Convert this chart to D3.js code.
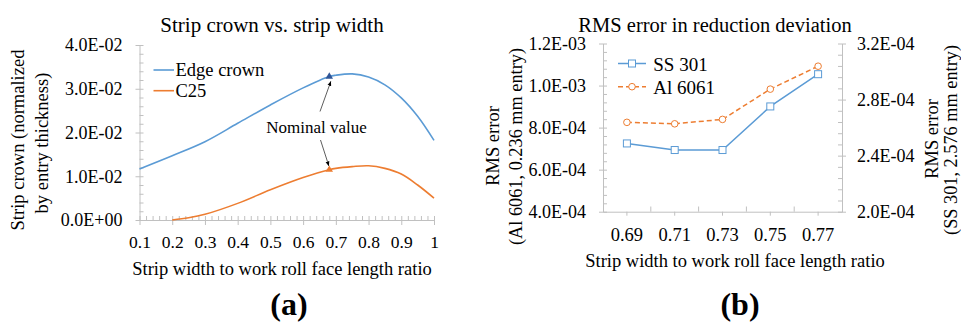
<!DOCTYPE html>
<html>
<head>
<meta charset="utf-8">
<script src="https://cdn.jsdelivr.net/npm/d3@7/dist/d3.min.js"></script>
<style>
  body { margin: 0; background: #fff; }
  svg { display: block; }
</style>
</head>
<body>
<svg id="chart" width="961" height="324"></svg>
<script>
// ---------- Data: panel (a) ----------
const ratioA = [0.1, 0.2, 0.3, 0.4, 0.5, 0.6, 0.68, 0.7, 0.75, 0.8, 0.85, 0.9, 0.95, 1.0];
const edgeCrown = [0.01168, 0.0147, 0.0179, 0.0221, 0.0263, 0.0302, 0.0328, 0.0331, 0.0334, 0.0327, 0.0309, 0.0279, 0.0237, 0.0182];
const ratioC25 = [0.2, 0.25, 0.3, 0.4, 0.5, 0.6, 0.68, 0.7, 0.75, 0.8, 0.85, 0.9, 0.95, 1.0];
const c25 = [0.0, 0.0005, 0.0013, 0.0038, 0.0069, 0.0097, 0.0115, 0.0118, 0.0122, 0.0124, 0.0118, 0.0105, 0.0080, 0.0050];
const nominalRatio = 0.68;
const nominalEdge = 0.0328;
const nominalC25 = 0.0115;
const xTicksA = [0.1, 0.2, 0.3, 0.4, 0.5, 0.6, 0.7, 0.8, 0.9, 1];
const yTicksA = [0, 0.01, 0.02, 0.03, 0.04];

// ---------- Data: panel (b) ----------
const widthRatios = ["0.69", "0.71", "0.73", "0.75", "0.77"];
const ss301 = [2.487e-4, 2.44e-4, 2.44e-4, 2.751e-4, 2.981e-4];      // right axis
const al6061 = [8.25e-4, 8.18e-4, 8.39e-4, 9.83e-4, 1.092e-3];     // left axis
const yTicksBLeft = [4e-4, 6e-4, 8e-4, 1.0e-3, 1.2e-3];
const yTicksBRight = [2.0e-4, 2.4e-4, 2.8e-4, 3.2e-4];

const BLUE = "#5b9bd5", ORANGE = "#ed7d31", AXIS = "#c0c0c0";
const FONT = "'Liberation Serif', 'Times New Roman', Tinos";
const svg = d3.select("#chart");
svg.append("rect").attr("width", 961).attr("height", 324).attr("fill", "#fff");

function fmtE(v, digits) {
  if (v === 0) return "0.0E+00";
  const e = Math.floor(Math.log10(Math.abs(v)) + 1e-9);
  const m = v / Math.pow(10, e);
  const sign = e < 0 ? "-" : "+";
  const ae = Math.abs(e);
  return m.toFixed(digits) + "E" + sign + (ae < 10 ? "0" + ae : ae);
}
function styleAxis(g) {
  g.select(".domain").attr("stroke", AXIS).attr("stroke-width", 1);
  g.selectAll(".tick line").attr("stroke", AXIS).attr("stroke-width", 1);
}
function label(g, x, y, txt, size, opts = {}) {
  const t = g.append("text")
    .attr("transform", opts.rot ? `translate(${x},${y}) rotate(-90)` : `translate(${x},${y})`)
    .attr("text-anchor", opts.anchor || "middle")
    .style("font-family", FONT).style("font-size", size + "px").style("fill", "#000")
    .text(txt);
  if (opts.bold) t.style("font-weight", "bold");
  return t;
}

// ================= Panel (a) =================
{
  const g = svg.append("g");
  const x = d3.scaleLinear().domain([0.1, 1]).range([139.5, 434]);
  const y = d3.scaleLinear().domain([0, 0.04]).range([220, 45]);

  const minorY = d3.range(0, 0.0401, 0.002).filter(v => Math.abs(v / 0.01 - Math.round(v / 0.01)) > 1e-6);
  const gyMinor = g.append("g").attr("transform", `translate(${x(0.1)},0)`)
    .call(d3.axisRight(y).tickValues(minorY).tickSize(4).tickFormat(""));
  styleAxis(gyMinor); gyMinor.select(".domain").remove();
  const minorX = d3.range(0.1, 1.0001, 0.02).filter(v => Math.abs(v * 10 - Math.round(v * 10)) > 1e-6);
  const gxMinor = g.append("g").attr("transform", `translate(0,${y(0)})`)
    .call(d3.axisTop(x).tickValues(minorX).tickSize(4).tickFormat(""));
  styleAxis(gxMinor); gxMinor.select(".domain").remove();

  const gy = g.append("g").attr("transform", `translate(${x(0.1)},0)`)
    .call(d3.axisLeft(y).tickValues(yTicksA).tickSize(4).tickSizeOuter(0).tickPadding(13).tickFormat(d => fmtE(d, 1)));
  styleAxis(gy);
  gy.selectAll(".tick line").attr("x2", -4).attr("x1", 4);
  gy.selectAll(".tick text").style("font-family", FONT).style("font-size", "18px").style("fill", "#000").attr("dy", "0.33em");

  const gx = g.append("g").attr("transform", `translate(0,${y(0)})`)
    .call(d3.axisBottom(x).tickValues(xTicksA).tickSize(5).tickSizeOuter(0).tickFormat(d => d === 1 ? "1" : d3.format(".1f")(d)));
  styleAxis(gx);
  gx.selectAll(".tick line").attr("y1", -4).attr("y2", 5);
  gx.selectAll(".tick text").style("font-family", FONT).style("font-size", "17.5px").style("fill", "#000").attr("y", 28).attr("dy", 0);

  const line = d3.line().x(d => x(d[0])).y(d => y(d[1])).curve(d3.curveCatmullRom.alpha(0.5));
  g.append("path").datum(ratioA.map((r, i) => [r, edgeCrown[i]]))
    .attr("d", line).attr("fill", "none").attr("stroke", BLUE).attr("stroke-width", 1.6);
  g.append("path").datum(ratioC25.map((r, i) => [r, c25[i]]))
    .attr("d", line).attr("fill", "none").attr("stroke", ORANGE).attr("stroke-width", 1.6);

  const tri = d3.symbol().type(d3.symbolTriangle).size(24);
  g.append("path").attr("d", tri).attr("transform", `translate(${x(nominalRatio)},${y(nominalEdge)})`).attr("fill", "#2f5597");
  g.append("path").attr("d", tri).attr("transform", `translate(${x(nominalRatio)},${y(nominalC25)})`).attr("fill", ORANGE);

  const defs = svg.append("defs");
  defs.append("marker").attr("id", "arr").attr("viewBox", "0 0 10 10").attr("refX", 9).attr("refY", 5)
    .attr("markerWidth", 6).attr("markerHeight", 6).attr("orient", "auto")
    .append("path").attr("d", "M0,1 L10,5 L0,9 Z").attr("fill", "#000");
  label(g, 316.5, 133.3, "Nominal value", 17);
  g.append("line").attr("x1", 320).attr("y1", 111.5).attr("x2", x(nominalRatio) + 1.5).attr("y2", y(nominalEdge) + 5)
    .attr("stroke", "#333").attr("stroke-width", 0.8).attr("marker-end", "url(#arr)");
  g.append("line").attr("x1", 320.5).attr("y1", 140).attr("x2", x(nominalRatio) - 0.5).attr("y2", y(nominalC25) - 4)
    .attr("stroke", "#333").attr("stroke-width", 0.8).attr("marker-end", "url(#arr)");

  const leg = [["Edge crown", BLUE], ["C25", ORANGE]];
  leg.forEach((d, i) => {
    const yy = 70 + i * 20.7;
    g.append("line").attr("x1", 153.5).attr("x2", 174).attr("y1", yy).attr("y2", yy).attr("stroke", d[1]).attr("stroke-width", 1.6);
    label(g, 175.5, yy + 6, d[0], 18.5, { anchor: "start" });
  });

  label(g, 272, 31.5, "Strip crown vs. strip width", 21);
  label(g, 282, 275, "Strip width to work roll face length ratio", 18.5);
  label(g, 24, 140, "Strip crown (normalized", 18.5, { rot: true });
  label(g, 47.5, 143, "by entry thickness)", 18.5, { rot: true });
  label(g, 289, 315, "(a)", 32, { bold: true });
}

// ================= Panel (b) =================
{
  const g = svg.append("g");
  const x = d3.scaleBand().domain(widthRatios).range([603, 842]).padding(0);
  const yL = d3.scaleLinear().domain([4e-4, 1.2e-3]).range([211.7, 43.5]);
  const yR = d3.scaleLinear().domain([2e-4, 3.2e-4]).range([211.7, 43.5]);
  const cx = d => x(d) + x.bandwidth() / 2;

  const minorL = d3.range(4e-4, 1.2001e-3, 0.4e-4).filter(v => Math.abs(v / 2e-4 - Math.round(v / 2e-4)) > 1e-6);
  const gl2 = g.append("g").attr("transform", `translate(603,0)`)
    .call(d3.axisRight(yL).tickValues(minorL).tickSize(4).tickFormat(""));
  styleAxis(gl2); gl2.select(".domain").remove();
  const minorR = d3.range(2e-4, 3.2001e-4, 0.08e-4).filter(v => Math.abs(v / 0.4e-4 - Math.round(v / 0.4e-4)) > 1e-6);
  const gr2 = g.append("g").attr("transform", `translate(842,0)`)
    .call(d3.axisLeft(yR).tickValues(minorR).tickSize(4).tickFormat(""));
  styleAxis(gr2); gr2.select(".domain").remove();
  const bounds = widthRatios.slice(1).map(d => x(d));
  g.selectAll(".xb").data(bounds).join("line").attr("x1", d => d).attr("x2", d => d)
    .attr("y1", 211.7).attr("y2", 206.5).attr("stroke", AXIS);

  const gl = g.append("g").attr("transform", `translate(603,0)`)
    .call(d3.axisLeft(yL).tickValues(yTicksBLeft).tickSize(4).tickSizeOuter(0).tickPadding(13).tickFormat(d => fmtE(d, 1)));
  styleAxis(gl);
  gl.selectAll(".tick line").attr("x1", 4).attr("x2", -4);
  gl.selectAll(".tick text").style("font-family", FONT).style("font-size", "18px").style("fill", "#000").attr("dy", "0.33em");

  const gr = g.append("g").attr("transform", `translate(842,0)`)
    .call(d3.axisRight(yR).tickValues(yTicksBRight).tickSize(4).tickSizeOuter(0).tickPadding(11).tickFormat(d => fmtE(d, 1)));
  styleAxis(gr);
  gr.selectAll(".tick line").attr("x1", -4).attr("x2", 4);
  gr.selectAll(".tick text").style("font-family", FONT).style("font-size", "18px").style("fill", "#000").attr("dy", "0.33em");

  const gx = g.append("g").attr("transform", `translate(0,211.7)`)
    .call(d3.axisBottom(x).tickSize(4).tickSizeOuter(0));
  styleAxis(gx);
  gx.selectAll(".tick text").style("font-family", FONT).style("font-size", "18.5px").style("fill", "#000").attr("y", 29).attr("dy", 0);

  const lAl = d3.line().x((d, i) => cx(widthRatios[i])).y(d => yL(d));
  const lSS = d3.line().x((d, i) => cx(widthRatios[i])).y(d => yR(d));
  g.append("path").datum(al6061).attr("d", lAl).attr("fill", "none").attr("stroke", ORANGE)
    .attr("stroke-width", 1.5).attr("stroke-dasharray", "5,3");
  g.append("path").datum(ss301).attr("d", lSS).attr("fill", "none").attr("stroke", BLUE).attr("stroke-width", 1.5);
  g.selectAll(".mc").data(al6061).join("circle").attr("cx", (d, i) => cx(widthRatios[i])).attr("cy", d => yL(d))
    .attr("r", 3.3).attr("fill", "#fff").attr("stroke", ORANGE).attr("stroke-width", 1);
  g.selectAll(".ms").data(ss301).join("rect").attr("x", (d, i) => cx(widthRatios[i]) - 3.5).attr("y", d => yR(d) - 3.5)
    .attr("width", 7).attr("height", 7).attr("fill", "#fff").attr("stroke", BLUE).attr("stroke-width", 1);

  const ly1 = 63.5, ly2 = 86.7;
  g.append("line").attr("x1", 618).attr("x2", 646).attr("y1", ly1).attr("y2", ly1).attr("stroke", BLUE).attr("stroke-width", 1.5);
  g.append("rect").attr("x", 628.5).attr("y", ly1 - 3.5).attr("width", 7).attr("height", 7).attr("fill", "#fff").attr("stroke", BLUE);
  label(g, 653.3, 71, "SS 301", 19, { anchor: "start" });
  g.append("line").attr("x1", 618).attr("x2", 646).attr("y1", ly2).attr("y2", ly2).attr("stroke", ORANGE).attr("stroke-width", 1.5).attr("stroke-dasharray", "5,3");
  g.append("circle").attr("cx", 632).attr("cy", ly2).attr("r", 3.3).attr("fill", "#fff").attr("stroke", ORANGE);
  label(g, 653.3, 93.5, "Al 6061", 19, { anchor: "start" });

  label(g, 715, 31.5, "RMS error in reduction deviation", 20.5);
  label(g, 735, 266.7, "Strip width to work roll face length ratio", 18.5);
  label(g, 499, 146, "RMS error", 18.5, { rot: true });
  label(g, 522, 146.5, "(Al 6061, 0.236 mm entry)", 18.3, { rot: true });
  label(g, 938, 139, "RMS error", 18.5, { rot: true });
  label(g, 956.5, 140, "(SS 301, 2.576 mm entry)", 18.3, { rot: true });
  label(g, 740, 315, "(b)", 32, { bold: true });
}
</script>
</body>
</html>
